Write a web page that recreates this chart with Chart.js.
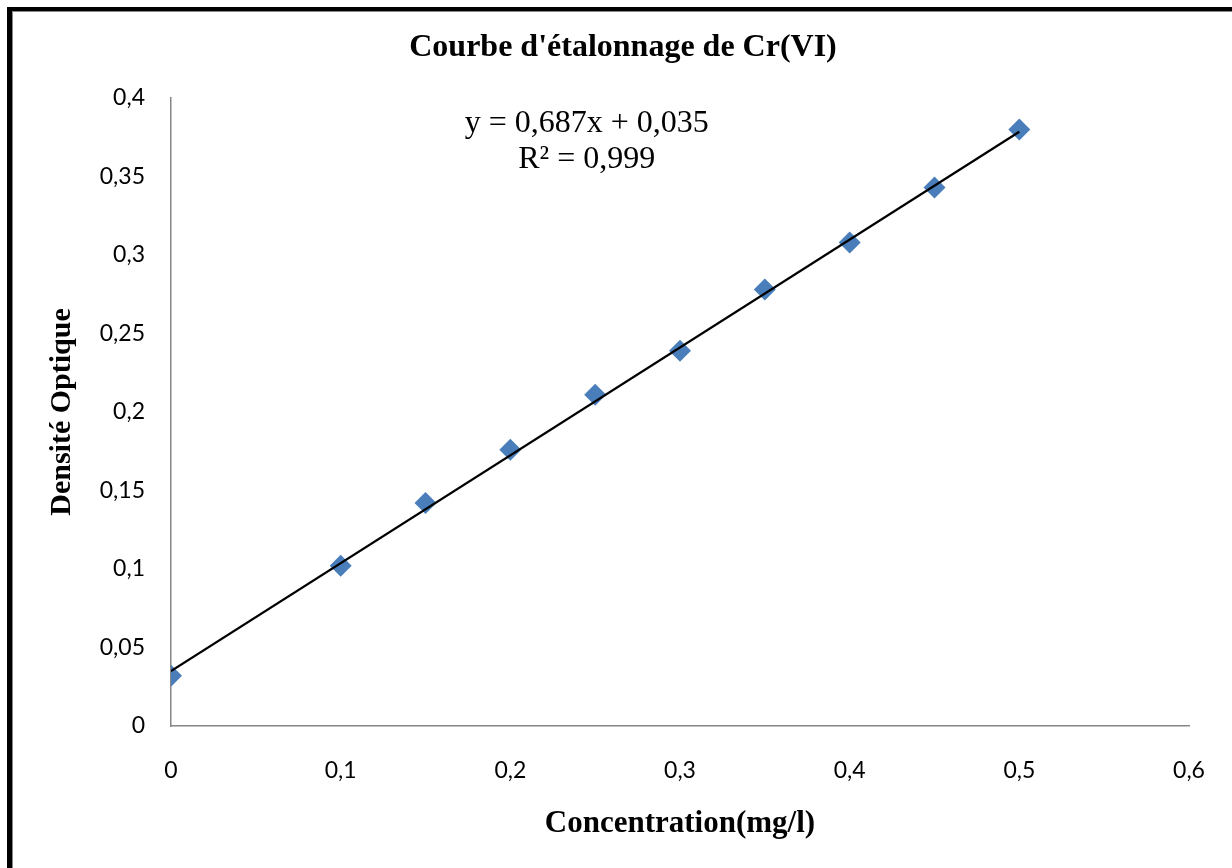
<!DOCTYPE html>
<html>
<head>
<meta charset="utf-8">
<title>Courbe d'étalonnage de Cr(VI)</title>
<script src="https://cdn.jsdelivr.net/npm/chart.js@4/dist/chart.umd.min.js"></script>
<style>
    body { margin: 0; background: #fff; overflow: hidden; }
    #wrap { position: relative; width: 1232px; height: 868px; }
    #frame {
        position: absolute; left: 7px; top: 7px; width: 1400px; height: 1000px;
        border-left: 5px solid #000; border-top: 4px solid #000;
        box-shadow: inset 1px 1px 0 #888;
        pointer-events: none;
    }
</style>
</head>
<body>
<div id="wrap">
    <canvas id="calib" width="1232" height="868"></canvas>
    <div id="frame"></div>
</div>
<script>
// Concentration (mg/l) and measured optical density
const concentrations = [0, 0.1, 0.15, 0.2, 0.25, 0.3, 0.35, 0.4, 0.45, 0.5];
const densities = [0.032, 0.102, 0.142, 0.176, 0.211, 0.239, 0.278, 0.308, 0.343, 0.380];

// Linear regression shown on the chart
const slope = 0.687;
const intercept = 0.035;
const rSquared = 0.999;
const trendRange = [0, 0.5];

const xTickLabels = ['0', '0,1', '0,2', '0,3', '0,4', '0,5', '0,6'];
const yTickLabels = ['0', '0,05', '0,1', '0,15', '0,2', '0,25', '0,3', '0,35', '0,4'];

const fr = (n, d) => n.toFixed(d).replace('.', ',');
const equationLines = [
    'y = ' + fr(slope, 3) + 'x + ' + fr(intercept, 3),
    'R² = ' + fr(rSquared, 3)
];

const points = concentrations.map((c, i) => ({ x: c, y: densities[i] }));
const trend = trendRange.map(x => ({ x: x, y: slope * x + intercept }));

// writes the regression equation near the top of the plot
const equationLabel = {
    id: 'equationLabel',
    afterDatasetsDraw(chart) {
        const { ctx, scales } = chart;
        const cx = scales.x.getPixelForValue(0.245);
        const cy = scales.y.getPixelForValue(0.3838);
        ctx.save();
        ctx.font = '32px "Liberation Serif", "Times New Roman", serif';
        ctx.fillStyle = '#000';
        ctx.textAlign = 'center';
        ctx.textBaseline = 'middle';
        equationLines.forEach((t, i) => ctx.fillText(t, cx, cy + i * 36));
        ctx.restore();
    }
};

const axisFont = { family: 'Lato, "Open Sans", sans-serif', size: 23 };
const serifBold = { family: '"Liberation Serif", "Times New Roman", serif', weight: 'bold' };

new Chart(document.getElementById('calib'), {
    type: 'scatter',
    data: {
        datasets: [
            {
                type: 'line',
                data: trend,
                borderColor: '#000',
                borderWidth: 2.2,
                pointRadius: 0,
                fill: false,
                order: 0
            },
            {
                data: points,
                pointStyle: 'rectRot',
                pointRadius: 11,
                pointHoverRadius: 11,
                backgroundColor: '#4A7EBB',
                borderColor: '#4A7EBB',
                borderWidth: 0,
                order: 1
            }
        ]
    },
    options: {
        responsive: false,
        animation: false,
        layout: {
            padding: { left: 57, right: 43, top: 0, bottom: 0 }
        },
        scales: {
            x: {
                type: 'linear',
                min: 0,
                max: 0.6,
                ticks: {
                    stepSize: 0.1,
                    padding: 31,
                    color: '#000',
                    font: axisFont,
                    callback: (v, i) => xTickLabels[i]
                },
                grid: { display: false, drawTicks: false },
                border: { display: true, color: '#868686', width: 1.5 },
                title: {
                    display: true,
                    text: 'Concentration(mg/l)',
                    color: '#000',
                    font: { ...serifBold, size: 31 },
                    padding: { top: 0, bottom: 25 }
                },
                afterFit: (scale) => {
                    scale.height = 142;
                    // the layout padding already leaves room for the last label
                    scale.paddingRight = 0;
                }
            },
            y: {
                min: 0,
                max: 0.4,
                ticks: {
                    stepSize: 0.05,
                    padding: 26,
                    color: '#000',
                    font: axisFont,
                    callback: (v, i) => yTickLabels[i]
                },
                grid: { display: false, drawTicks: false },
                border: { display: true, color: '#868686', width: 1.5 },
                title: {
                    display: true,
                    text: 'Densité Optique',
                    color: '#000',
                    font: { ...serifBold, size: 30 },
                    padding: { top: -13, bottom: 0 }
                },
                afterFit: (scale) => { scale.width = 114; }
            }
        },
        plugins: {
            title: {
                display: true,
                text: "Courbe d'étalonnage de Cr(VI)",
                color: '#000',
                font: { ...serifBold, size: 32 },
                padding: { top: 29, bottom: 30.6 }
            },
            legend: { display: false },
            tooltip: { enabled: false }
        }
    },
    plugins: [equationLabel]
});
</script>
</body>
</html>
